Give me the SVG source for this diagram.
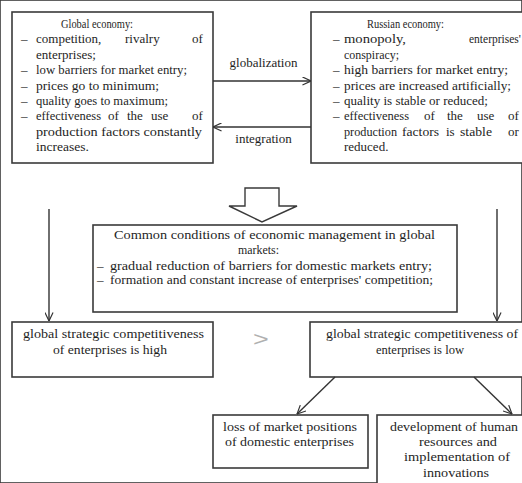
<svg xmlns="http://www.w3.org/2000/svg" width="522" height="483" viewBox="0 0 522 483" font-family="Liberation Serif, Times New Roman, serif" font-size="13">
<defs>
<marker id="arr" viewBox="0 0 10 10" refX="9.5" refY="5" markerWidth="9" markerHeight="9" markerUnits="userSpaceOnUse" orient="auto">
<path d="M0,0.5 L9.5,5 L0,9.5" fill="none" stroke="#333" stroke-width="1.3"/>
</marker>
<style>
rect, .box { fill: #fff; stroke: #3a3a3a; stroke-width: 1.6; }
text { fill: #1e1e1e; }
.c { text-anchor: middle; }
.t { font-size: 11.5px; }
.ln { stroke: #333; stroke-width: 1.4; fill: none; }
</style>
</defs>
<rect width="522" height="483" fill="#fff" stroke="none"/>

<g id="global-economy">
<rect x="12" y="12" width="201" height="151"/>
<text class="t" x="61" y="27.5" textLength="72" lengthAdjust="spacingAndGlyphs">Global economy:</text>
<text x="21" y="43">–</text><text x="36" y="43">competition,</text><text x="125" y="43">rivalry</text><text x="192" y="43">of</text>
<text x="36" y="58.5">enterprises;</text>
<text x="21" y="74">–</text><text x="36" y="74" textLength="151" lengthAdjust="spacingAndGlyphs">low barriers for market entry;</text>
<text x="21" y="89.5">–</text><text x="36" y="89.5" textLength="123" lengthAdjust="spacingAndGlyphs">prices go to minimum;</text>
<text x="21" y="105">–</text><text x="36" y="105" textLength="132" lengthAdjust="spacingAndGlyphs">quality goes to maximum;</text>
<text x="21" y="120">–</text><text x="36" y="120" textLength="65" lengthAdjust="spacingAndGlyphs">effectiveness</text><text x="108" y="120">of</text><text x="127" y="120">the</text><text x="151" y="120">use</text><text x="192" y="120">of</text>
<text x="36" y="135.5" textLength="166" lengthAdjust="spacingAndGlyphs">production factors constantly</text>
<text x="36" y="151" textLength="53" lengthAdjust="spacingAndGlyphs">increases.</text>
</g>

<g id="russian-economy">
<rect x="311" y="12" width="220" height="151"/>
<text class="t" x="367" y="27.5" textLength="77" lengthAdjust="spacingAndGlyphs">Russian economy:</text>
<text x="333" y="43">–</text><text x="344" y="43" textLength="62" lengthAdjust="spacingAndGlyphs">monopoly,</text><text x="469" y="43" font-size="11.5">enterprises'</text>
<text x="344" y="58.5" textLength="55" lengthAdjust="spacingAndGlyphs">conspiracy;</text>
<text x="333" y="74">–</text><text x="344" y="74" textLength="164" lengthAdjust="spacingAndGlyphs">high barriers for market entry;</text>
<text x="333" y="89.5">–</text><text x="344" y="89.5" textLength="167" lengthAdjust="spacingAndGlyphs">prices are increased artificially;</text>
<text x="333" y="105">–</text><text x="344" y="105" textLength="144" lengthAdjust="spacingAndGlyphs">quality is stable or reduced;</text>
<text x="333" y="120">–</text><text x="344" y="120" textLength="65" lengthAdjust="spacingAndGlyphs">effectiveness</text><text x="424" y="120">of</text><text x="447" y="120">the</text><text x="477" y="120">use</text><text x="508" y="120">of</text>
<text x="344" y="135.5" textLength="53" lengthAdjust="spacingAndGlyphs">production</text><text x="402" y="135.5" textLength="37" lengthAdjust="spacingAndGlyphs">factors</text><text x="446" y="135.5">is</text><text x="460" y="135.5" textLength="32" lengthAdjust="spacingAndGlyphs">stable</text><text x="508" y="135.5">or</text>
<text x="344" y="151">reduced.</text>
</g>

<g id="common-conditions">
<rect x="93" y="225" width="364" height="87"/>
<text x="114" y="239" textLength="321" lengthAdjust="spacingAndGlyphs">Common conditions of economic management in global</text>
<text x="238" y="254" textLength="41" lengthAdjust="spacingAndGlyphs">markets:</text>
<text x="97" y="270">–</text><text x="110" y="270" textLength="322" lengthAdjust="spacingAndGlyphs">gradual reduction of barriers for domestic markets entry;</text>
<text x="97" y="284">–</text><text x="110" y="284" textLength="323" lengthAdjust="spacingAndGlyphs">formation and constant increase of enterprises' competition;</text>
</g>

<g id="high-competitiveness">
<rect x="12" y="322" width="201" height="55"/>
<text x="23" y="338" textLength="181" lengthAdjust="spacingAndGlyphs">global strategic competitiveness</text>
<text x="53" y="354" textLength="114" lengthAdjust="spacingAndGlyphs">of enterprises is high</text>
</g>

<g id="comparison">
<text x="0" y="0" transform="translate(253,346) scale(1.35,1)" font-family="Liberation Sans, Arial, sans-serif" font-size="20" style="fill:#b0b0b0">&gt;</text>
</g>

<g id="low-competitiveness">
<rect x="310" y="322" width="221" height="55"/>
<text x="326" y="338" textLength="192" lengthAdjust="spacingAndGlyphs">global strategic competitiveness of</text>
<text x="376" y="354" textLength="88" lengthAdjust="spacingAndGlyphs">enterprises is low</text>
</g>

<g id="loss-of-positions">
<rect x="213" y="415" width="155" height="53"/>
<text x="223" y="431" textLength="134" lengthAdjust="spacingAndGlyphs">loss of market positions</text>
<text x="225" y="446" textLength="129" lengthAdjust="spacingAndGlyphs">of domestic enterprises</text>
</g>

<g id="development">
<rect x="377" y="415" width="159" height="80"/>
<text x="390" y="431" textLength="128" lengthAdjust="spacingAndGlyphs">development of human</text>
<text x="419" y="446" textLength="78" lengthAdjust="spacingAndGlyphs">resources and</text>
<text x="404" y="461" textLength="106" lengthAdjust="spacingAndGlyphs">implementation of</text>
<text x="423" y="477" textLength="66" lengthAdjust="spacingAndGlyphs">innovations</text>
</g>

<g id="connectors">
<line class="ln" x1="213" y1="81" x2="311" y2="81" marker-end="url(#arr)"/>
<text class="c" x="263.5" y="67">globalization</text>
<line class="ln" x1="311" y1="127" x2="213" y2="127" marker-end="url(#arr)"/>
<text class="c" x="263.5" y="143">integration</text>
<polygon points="245,188 279,188 279,206 297,206 262,222 229,206 245,206" fill="#fff" stroke="#3a3a3a" stroke-width="1.4"/>
<line class="ln" x1="49" y1="209" x2="49" y2="321" marker-end="url(#arr)"/>
<line class="ln" x1="497" y1="209" x2="497" y2="321" marker-end="url(#arr)"/>
<line class="ln" x1="335" y1="377" x2="297" y2="414" marker-end="url(#arr)"/>
<line class="ln" x1="474" y1="377" x2="512" y2="414" marker-end="url(#arr)"/>
</g>
</svg>
